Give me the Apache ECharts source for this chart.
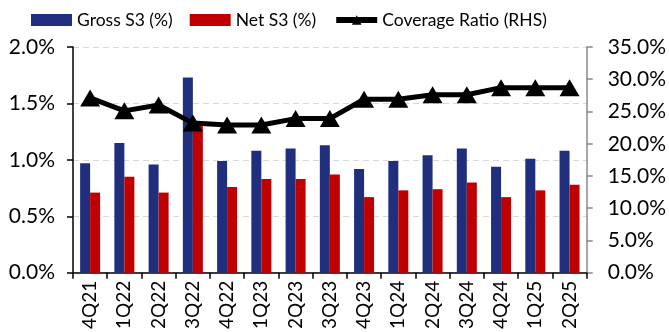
<!DOCTYPE html>
<html><head><meta charset="utf-8">
<script src="https://cdn.jsdelivr.net/npm/echarts@6/dist/echarts.min.js"></script>
<style>html,body{margin:0;padding:0;background:#fff}#c{width:669px;height:332px}</style>
</head><body><div id="c"></div>
<script>
var categories = ['4Q21','1Q22','2Q22','3Q22','4Q22','1Q23','2Q23','3Q23','4Q23','1Q24','2Q24','3Q24','4Q24','1Q25','2Q25'];
var grossS3 = [0.97,1.15,0.96,1.73,0.99,1.08,1.10,1.13,0.92,0.99,1.04,1.10,0.94,1.01,1.08];
var netS3 = [0.71,0.85,0.71,1.30,0.76,0.83,0.83,0.87,0.67,0.73,0.74,0.80,0.67,0.73,0.78];
var coverage = [27.1,25.1,26.0,23.2,22.9,22.9,23.9,23.9,26.9,26.9,27.6,27.6,28.7,28.7,28.7];
var leftTicks = [0,0.5,1.0,1.5,2.0];
var rightTicks = [0,5,10,15,20,25,30,35];

var font = 'Lato';
var chart = echarts.init(document.getElementById('c'));
chart.setOption({
  animation:false,
  textStyle:{fontFamily:font},
  legend:{
    top:6, left:26, itemGap:17, itemWidth:41, itemHeight:12,
    textStyle:{fontSize:17.5,color:'#000',fontFamily:font},
    data:[
      {name:'Gross S3 (%)',icon:'rect'},
      {name:'Net S3 (%)',icon:'rect'},
      {name:'Coverage Ratio (RHS)',lineStyle:{width:6,color:'#000'},itemStyle:{color:'#000'}}
    ]
  },
  grid:{left:73,right:81,top:47,bottom:59},
  xAxis:{
    type:'category', data:categories,
    axisLine:{lineStyle:{color:'#000',width:1.5}},
    axisTick:{show:true,alignWithLabel:false,length:6,lineStyle:{color:'#000',width:1.5}},
    axisLabel:{rotate:90,fontSize:19,color:'#000',margin:8,fontFamily:font}
  },
  yAxis:[
    {type:'value',min:0,max:2.0,interval:0.5,position:'left',
     axisLine:{show:true,lineStyle:{color:'#000',width:1.5}},
     axisTick:{show:true,length:6,lineStyle:{color:'#000',width:1.5}},
     splitLine:{show:true,lineStyle:{color:'#d8d8e0',type:[6,4],width:1.2}},
     axisLabel:{fontSize:21,color:'#000',margin:18,fontFamily:font,formatter:function(v){return v.toFixed(1)+'%';}}},
    {type:'value',min:0,max:35,interval:5,position:'right',
     axisLine:{show:true,lineStyle:{color:'#888',width:1.5}},
     axisTick:{show:true,length:6,lineStyle:{color:'#888',width:1.5}},
     splitLine:{show:false},
     axisLabel:{fontSize:21,color:'#000',margin:21,fontFamily:font,formatter:function(v){return v.toFixed(1)+'%';}}}
  ],
  series:[
    {name:'Gross S3 (%)',type:'bar',data:grossS3,barWidth:10,barGap:'0%',itemStyle:{color:'#1f2f7d'}},
    {name:'Net S3 (%)',type:'bar',data:netS3,barWidth:10,barGap:'0%',itemStyle:{color:'#c00000'}},
    {name:'Coverage Ratio (RHS)',type:'line',yAxisIndex:1,data:coverage,
     lineStyle:{color:'#000',width:5},itemStyle:{color:'#000'},
     symbol:'triangle',symbolSize:[20,17],z:5}
  ]
});
</script></body></html>
